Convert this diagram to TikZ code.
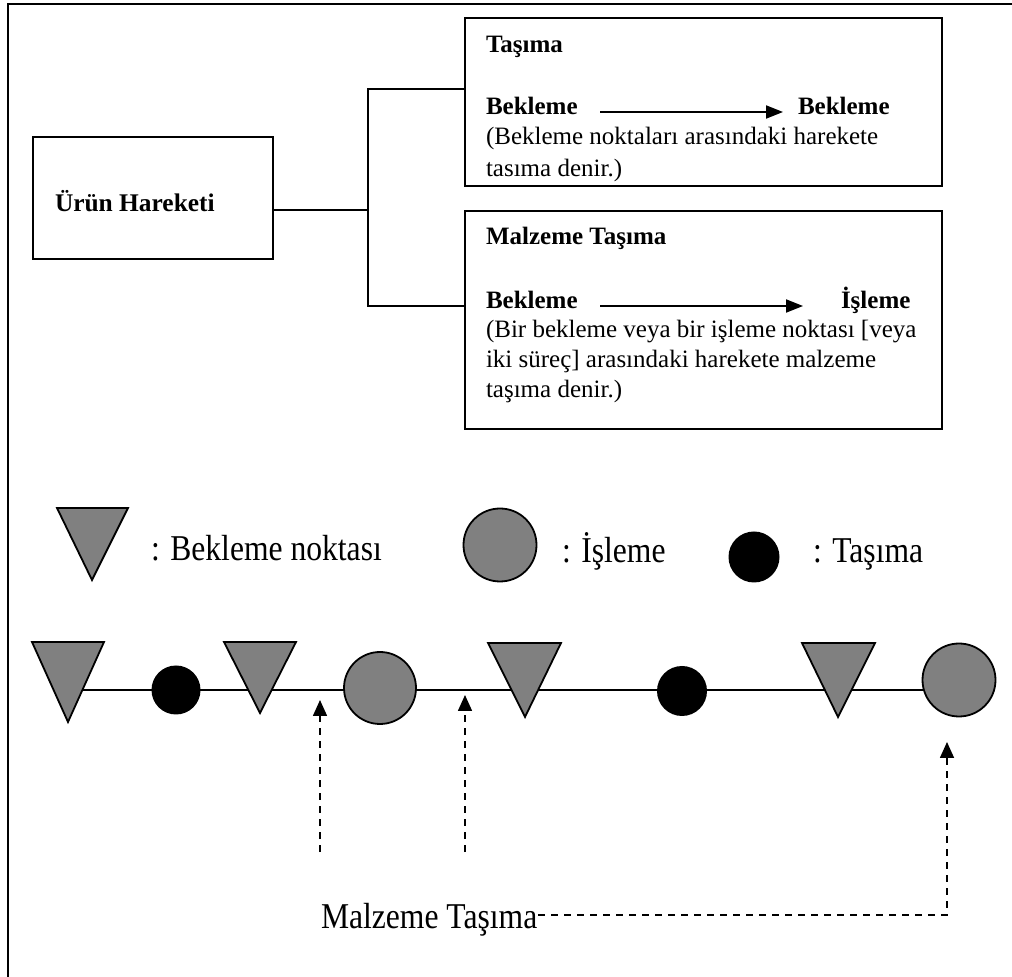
\documentclass[tikz,border=0pt]{standalone}
\usepackage{fontspec}
\usepackage{graphicx}
\setmainfont{Liberation Serif}
\usetikzlibrary{arrows.meta}
\definecolor{tgray}{RGB}{128,128,128}
\newcommand{\tallish}[1]{\scalebox{1}[1.15]{#1}}
\begin{document}
\begin{tikzpicture}[x=0.5pt,y=-0.5pt, line width=1pt,
  box/.style={draw, line width=1pt, rectangle, inner sep=0pt, anchor=north west},
  txt/.style={anchor=base west, inner sep=0pt, font=\fontsize{12.5pt}{15pt}\selectfont},
  btxt/.style={anchor=base west, inner sep=0pt, font=\fontsize{12.5pt}{15pt}\selectfont\bfseries},
  big/.style={anchor=base west, inner sep=0pt, font=\fontsize{15.8pt}{19pt}\selectfont},
  proc/.style={circle, draw, fill=tgray, line width=0.9pt, inner sep=0pt, minimum size=36pt},
  blackdot/.style={circle, fill=black, inner sep=0pt, minimum size=25pt},
  waitshape/.style={draw, fill=tgray, line width=0.9pt, line join=miter},
  dasharrow/.style={dash pattern=on 3.5pt off 3pt, line width=0.8pt, -{Triangle[length=8pt,width=7pt]}},
  solidarrow/.style={line width=1pt, -{Triangle[length=8.5pt,width=6.5pt]}}]
\useasboundingbox (0,0) rectangle (1012,977);

% outer frame (top and left only visible)
\draw[line width=1.2pt] (8,977) -- (8,4) -- (1012,4);

% boxes
\node[box, minimum width=120pt, minimum height=61pt] (urun) at (32,136) {};
\node[box, minimum width=238.5pt, minimum height=84pt] (tas) at (464,17) {};
\node[box, minimum width=238.5pt, minimum height=109pt] (malz) at (464,210) {};

\node[anchor=base west, inner sep=0pt, font=\fontsize{12.7pt}{15pt}\selectfont\bfseries] (urunt) at (54,212) {Ürün Hareketi};

% connectors
\coordinate (j1) at (368,210);
\coordinate (j2) at (368,89);
\coordinate (j3) at (368,306);
\draw (urun.east |- j1) -- (j1);
\draw (tas.west |- j2) -- (j2) -- (j3) -- (malz.west |- j3);

% Taşıma box texts
\begin{scope}
\clip (464,17) rectangle (941,185);
\node[btxt] (t1) at (485,53) {Taşıma};
\node[btxt] (t2) at (485,115) {Bekleme};
\node[btxt] (t3) at (797,115) {Bekleme};
\node[txt] (t4) at (485,145) {(Bekleme noktaları arasındaki harekete};
\node[txt] (t5) at (485,177) {tasıma denir.)};
\end{scope}
\coordinate (ta1) at (600,112);
\coordinate (ta2) at (783,112);
\draw[solidarrow] (ta1) -- (ta2);

% Malzeme Taşıma box texts
\node[btxt] (m1) at (485,245) {Malzeme Taşıma};
\node[btxt] (m2) at (485,309) {Bekleme};
\node[btxt] (m3) at (840,309) {İşleme};
\node[txt] (m4) at (485,338) {(Bir bekleme veya bir işleme noktası [veya};
\node[txt] (m5) at (485,368) {iki süreç] arasındaki harekete malzeme};
\node[txt] (m6) at (485,398) {taşıma denir.)};
\coordinate (ma1) at (600,306);
\coordinate (ma2) at (803,306);
\draw[solidarrow] (ma1) -- (ma2);

% legend
\draw[waitshape] (57,508) -- (128,508) -- (92,580) -- cycle;
\node[big] (l1) at (150,561) {\tallish{: Bekleme noktası}};
\node[proc, minimum size=36.5pt] (lp) at (500,545) {};
\node[big] (l2) at (561,563) {\tallish{: İşleme}};
\node[blackdot, minimum size=25.5pt] (ld) at (754,557) {};
\node[big] (l3) at (812,563) {\tallish{: Taşıma}};

% main row
\coordinate (w1) at (68,690);
\coordinate (p2) at (959,690);
\draw (w1) -- (p2);
\draw[waitshape] (32,642) -- (104,642) -- (68,722) -- cycle;
\node[blackdot, minimum size=24.5pt] (d1) at (176,690) {};
\draw[waitshape] (224,642) -- (296,642) -- (260,713) -- cycle;
\node[proc] (c1) at (380,688) {};
\draw[waitshape] (488,643) -- (561,643) -- (525,717) -- cycle;
\node[blackdot] (d2) at (682,691) {};
\draw[waitshape] (802,643) -- (875,643) -- (838,717) -- cycle;
\node[proc, minimum size=36.5pt] (c2) at (959,680) {};

% Malzeme Taşıma pointers
\node[big] (mt) at (320,928) {\tallish{Malzeme Taşıma}};
\coordinate (a1s) at (320,852);
\coordinate (a1e) at (320,700);
\coordinate (a2s) at (465,852);
\coordinate (a2e) at (465,695);
\coordinate (a3c) at (947,915);
\coordinate (a3e) at (947,742);
\draw[dasharrow] (a1s) -- (a1e);
\draw[dasharrow] (a2s) -- (a2e);
\draw[dasharrow] (mt.east |- a3c) -- (a3c) -- (a3e);
\end{tikzpicture}
\end{document}
